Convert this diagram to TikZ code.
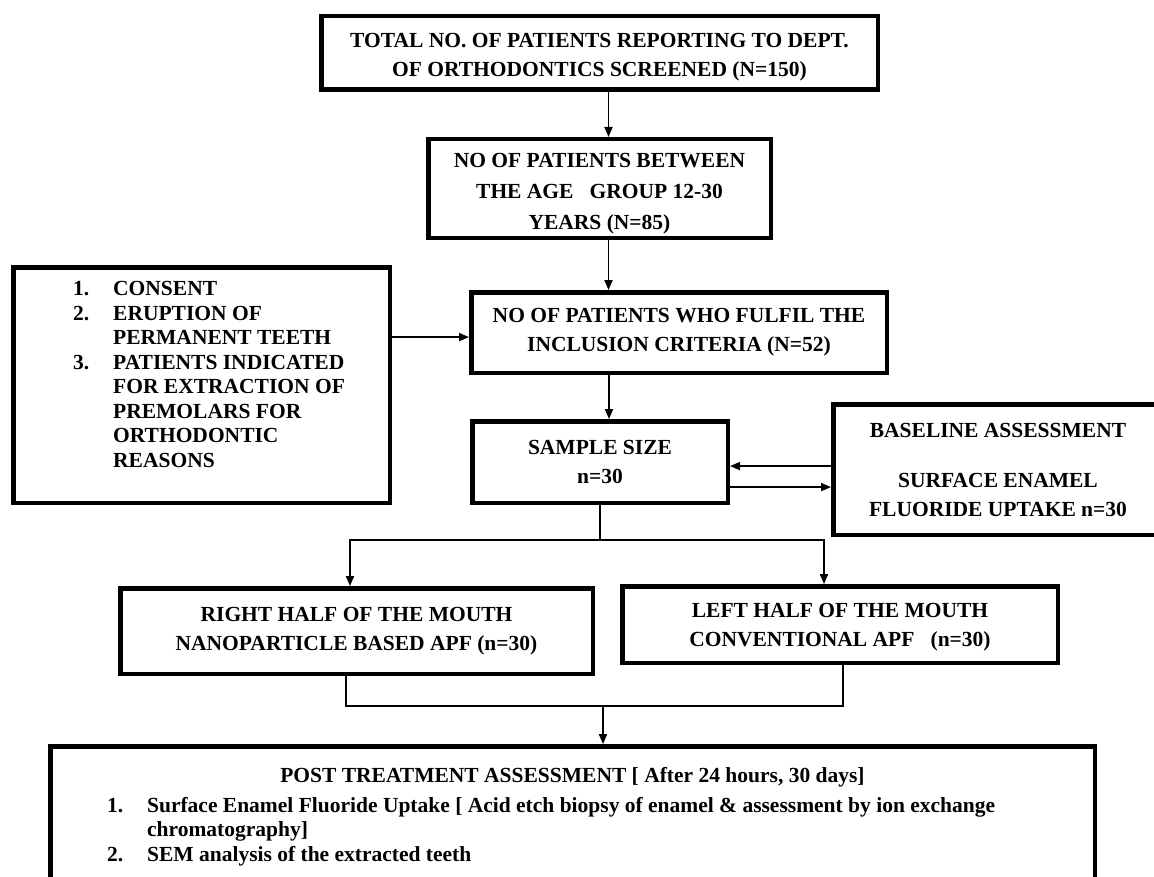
\documentclass[tikz,border=0pt]{standalone}
\usepackage{fontspec}
\setmainfont{Liberation Serif}
\usetikzlibrary{arrows.meta, positioning, calc}

\begin{document}
\begin{tikzpicture}[x=1pt, y=-1pt, node distance=45pt, every node/.style={font=\fontsize{21.5}{29}\selectfont\bfseries}, >={Triangle[length=10pt,width=8pt]}]
  \tikzset{
    box/.style={rectangle, draw=black, line width=4.5pt, fill=white, align=center, inner sep=4pt},
    arrow/.style={->, line width=1.8pt, draw=black},
    link/.style={line width=1.8pt, draw=black}
  }
  \useasboundingbox (0,0) rectangle (1154,877);

  \node[box, minimum width=556.5pt, minimum height=73.5pt] (total) at (599.5,53) {\rule{0pt}{22pt}TOTAL NO. OF PATIENTS REPORTING TO DEPT.\\OF ORTHODONTICS SCREENED (N=150)};
  \node[box, minimum width=342.5pt, minimum height=98.5pt, below=45pt of total] (age) {\rule{0pt}{24pt}NO OF PATIENTS BETWEEN\\[2pt]THE AGE\ \ \ GROUP 12-30\\[2pt]YEARS (N=85)};
  \node[box, minimum width=415.5pt, minimum height=80.5pt, below=50pt of age, xshift=79.5pt] (incl) {NO OF PATIENTS WHO FULFIL THE\\INCLUSION CRITERIA (N=52)};
  \node[box, minimum width=255.5pt, minimum height=81.5pt, below=44pt of incl, xshift=-79pt] (sample) {SAMPLE SIZE\\n=30};
  \node[box, minimum width=376.5pt, minimum height=235.5pt, left=77pt of incl, yshift=-52.5pt] (crit) {\hspace*{15pt}{\fontsize{21.5}{24.5}\selectfont\begin{tabular}{@{}l@{\hspace{24pt}}l@{}}
    1. & CONSENT\\
    2. & ERUPTION OF\\
       & PERMANENT TEETH\\
    3. & PATIENTS INDICATED\\
       & FOR EXTRACTION OF\\
       & PREMOLARS FOR\\
       & ORTHODONTIC\\
       & REASONS\\[17pt]
  \end{tabular}}};
  \node[box, minimum width=329.5pt, minimum height=130.5pt, right=101pt of sample, yshift=-7.5pt] (base) {BASELINE ASSESSMENT\\[21pt]SURFACE ENAMEL\\FLUORIDE UPTAKE n=30};
  \node[box, minimum width=472.5pt, minimum height=85.5pt, below=81pt of sample, xshift=-243.5pt] (right) {RIGHT HALF OF THE MOUTH\\NANOPARTICLE BASED APF (n=30)};
  \node[box, minimum width=435.5pt, minimum height=76.5pt, right=25pt of right, yshift=6.5pt] (left) {\rule{0pt}{20pt}LEFT HALF OF THE MOUTH\\CONVENTIONAL APF\ \ \ (n=30)};
  \node[box, minimum width=1044.5pt, minimum height=151.5pt, below=68pt of right, xshift=216pt, align=left] (post) {\makebox[931pt]{POST TREATMENT ASSESSMENT [ After 24 hours, 30 days]}\\[7pt]
    {\fontsize{21.5}{24.5}\selectfont\begin{tabular}{@{}l@{\hspace{24pt}}l@{}}
    1. & Surface Enamel Fluoride Uptake [ Acid etch biopsy of enamel \& assessment by ion exchange\\
       & chromatography]\\
    2. & SEM analysis of the extracted teeth\\[8pt]
  \end{tabular}}};

  \draw[arrow] ([xshift=9pt]total.south) -- ([xshift=9pt]age.north);
  \draw[arrow] ([xshift=9pt]age.south) -- ([xshift=9pt]age.south |- incl.north);
  \draw[arrow] ([yshift=-4.5pt]incl.west -| crit.east) -- ([yshift=-4.5pt]incl.west);
  \draw[arrow] ([xshift=9pt]sample.north |- incl.south) -- ([xshift=9pt]sample.north);
  \draw[arrow] ([yshift=3.5pt]base.west) -- ([yshift=3.5pt]base.west -| sample.east);
  \draw[arrow] ([yshift=-17.5pt]base.west -| sample.east) -- ([yshift=-17.5pt]base.west);

  % split into the two halves
  \coordinate[below=35pt of sample.south] (split);
  \draw[link] (sample.south) -- (split);
  \draw[arrow] (split) -| ([xshift=-6.5pt]right.north);
  \draw[arrow] (split) -| ([xshift=-16pt]left.north);

  % join towards the post treatment box
  \coordinate (join) at ($(post.north)+(30.5,-38)$);
  \draw[link] ([xshift=-10.5pt]right.south) |- (join) -| ([xshift=3pt]left.south);
  \draw[arrow] (join) -- (join |- post.north);
\end{tikzpicture}
\end{document}
